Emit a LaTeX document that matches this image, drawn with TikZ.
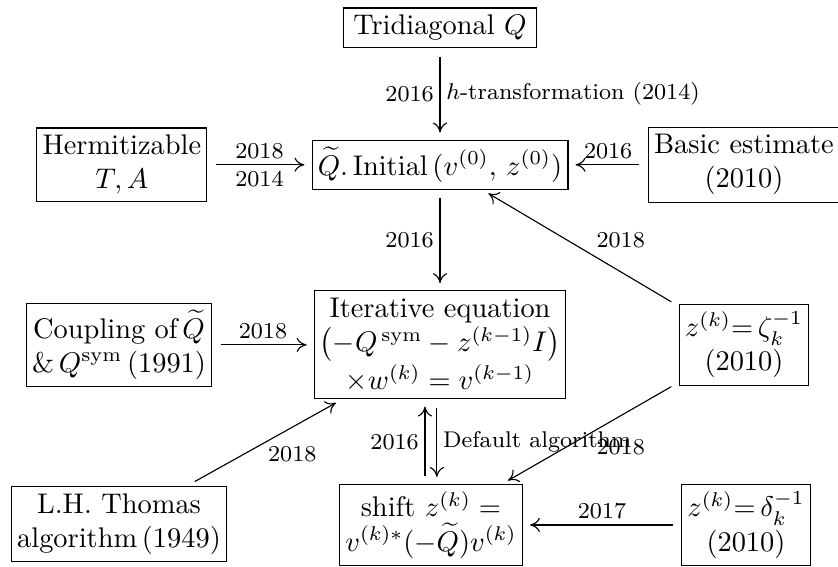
\documentclass[tikz,border=0pt]{standalone}
\usepackage{amsmath}
\usetikzlibrary{arrows.meta, positioning}

\begin{document}
\begin{tikzpicture}[
    >={To[length=3.5pt,width=5pt]},
    on grid,
    box/.style={
      draw, inner xsep=2pt, inner ysep=2.5pt,
      align=center, font=\normalsize
    },
    conn/.style={->, shorten <=3pt, shorten >=2.5pt},
    lbl/.style={font=\footnotesize, inner sep=2pt}
  ]

  \useasboundingbox (-154.9pt,-78.1pt) rectangle (140.1pt,121.4pt);

  \node[box] (iter)
    {Iterative equation\\ $\bigl(-Q^{\,\mathrm{sym}}-z^{(k-1)}I\bigr)$\\ $\times w^{(k)}=v^{(k-1)}$};
  \node[box, above=63.4pt of iter] (init)
    {$\widetilde{Q}.\,\mathrm{Initial}\,(v^{(0)},\,z^{(0)})$};
  \node[box, above=48.2pt of init, inner xsep=3.5pt] (tridiag) {Tridiagonal $Q$};

  \node[box, left=112pt of init] (hermit) {Hermitizable\\ $T,A$};
  \node[box, right=107pt of init] (basic) {Basic estimate\\ (2010)};
  \node[box, left=113pt of iter] (coupling)
    {Coupling of$\,\widetilde{Q}$\\ \&$\,Q^{\mathrm{sym}}$\,(1991)};
  \node[box, right=107pt of iter] (zeta) {$z^{(k)}{=}\,\zeta_k^{-1}$\\ (2010)};

  \node[box, below=63.4pt of iter, xshift=-3.2pt] (shift)
    {shift $z^{(k)}=$\\ $v^{(k)*}(-\widetilde{Q})v^{(k)}$};
  \node[box, below=63pt of coupling] (thomas) {L.H. Thomas\\ algorithm\,(1949)};
  \node[box, right=110.9pt of shift] (delta) {$z^{(k)}{=}\,\delta_k^{-1}$\\ (2010)};

  \draw[conn] (tridiag) -- (init)
    node[lbl, midway, left] {2016}
    node[lbl, midway, right] {$h$-transformation\ (2014)};
  \draw[conn] (hermit) -- (init)
    node[lbl, midway, above] {2018}
    node[lbl, midway, below] {2014};
  \draw[conn] (basic) -- (init) node[lbl, midway, above] {2016};
  \draw[conn] (init) -- (iter) node[lbl, midway, left] {2016};
  \draw[conn] (zeta) -- (init) node[lbl, pos=0.45, above right] {2018};
  \draw[conn] (coupling) -- (iter) node[lbl, midway, above] {2018};
  \draw[conn] (thomas) -- (iter) node[lbl, midway, below right, inner sep=1pt] {2018};
  \draw[conn] ([xshift=-2.1pt]shift.north) -- ([xshift=-2.1pt]shift.north |- iter.south)
    node[lbl, midway, left] {2016};
  \draw[conn] ([xshift=2.1pt]shift.north |- iter.south) -- ([xshift=2.1pt]shift.north)
    node[lbl, midway, right] {Default algorithm};
  \draw[conn] (zeta) -- (shift) node[lbl, midway, below right] {2018};
  \draw[conn] (delta) -- (shift) node[lbl, midway, above] {2017};

\end{tikzpicture}
\end{document}
